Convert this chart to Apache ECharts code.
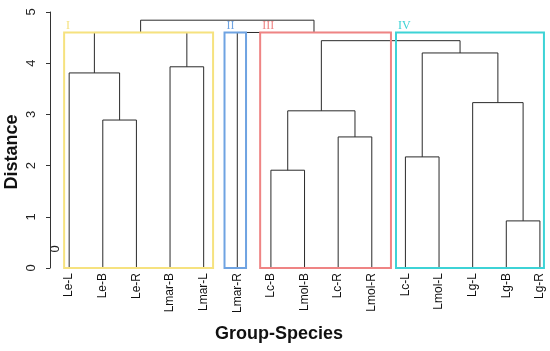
<!DOCTYPE html>
<html><head><meta charset="utf-8">
<script src="https://cdn.jsdelivr.net/npm/echarts@6/dist/echarts.min.js"></script>
<style>html,body{margin:0;padding:0;background:#fff}#c{width:550px;height:351px}</style>
</head><body><div id="c"></div>
<script>
// ---- data ----
const leaves = ['Le-L','Le-B','Le-R','Lmar-B','Lmar-L','Lmar-R','Lc-B','Lmol-B','Lc-R','Lmol-R','Lc-L','Lmol-L','Lg-L','Lg-B','Lg-R'];
// hclust-style merges: negative = leaf (1-based position), positive = earlier merge
const mergeLeft   = [-14, -7, -11, -9, -2, 2, -13, -1, -4, 3, 6, 8, -6, 12];
const mergeRight  = [-15, -8, -12, -10, -3, 4, 1, 5, -5, 7, 10, 9, 11, 13];
const mergeHeight = [0.92, 1.91, 2.17, 2.56, 2.89, 3.07, 3.23, 3.81, 3.93, 4.20, 4.44, 4.60, 4.60, 4.84];
const groupNames = ['I','II','III','IV'];
const groupFirst = [1, 6, 7, 11];
const groupLast  = [5, 6, 10, 15];
const groupCut = 4.6;
const yTicks = [0, 1, 2, 3, 4, 5];

// ---- styles / layout ----
const groupColors = ['#F6E27F', '#6FA3E2', '#EF8484', '#3DD3D6'];
const padLeft  = [0.15, 0.38, 0.32, 0.28];
const padRight = [0.28, 0.26, 0.57, 0.12];

// build dendrogram segments from the merge table
const mx = [], mh = [];
function nodeX(id) { return id < 0 ? -id : mx[id - 1]; }
function nodeH(id) { return id < 0 ? 0 : mh[id - 1]; }
const segs = [];
for (let k = 0; k < mergeHeight.length; k++) {
  const a = mergeLeft[k], b = mergeRight[k], h = mergeHeight[k];
  const xa = nodeX(a), xb = nodeX(b);
  segs.push([xa, nodeH(a), xa, h]);
  segs.push([xa, h, xb, h]);
  segs.push([xb, h, xb, nodeH(b)]);
  mx.push((xa + xb) / 2); mh.push(h);
}
const boxes = groupNames.map((g, i) => [groupFirst[i] - padLeft[i], groupLast[i] + padRight[i], groupCut, i]);

const chart = echarts.init(document.getElementById('c'));
chart.setOption({
  animation: false,
  backgroundColor: '#fff',
  grid: { left: 50, right: 0, top: 12, bottom: 83 },
  xAxis: {
    type: 'value', min: 0.43, max: 15.3,
    axisLine: { show: false }, axisTick: { show: false }, splitLine: { show: false },
    axisLabel: {
      customValues: leaves.map((_, i) => i + 1),
      formatter: v => leaves[Math.round(v) - 1] || '',
      rotate: 90, fontSize: 12, margin: 5, color: '#111', fontFamily: 'Liberation Sans'
    }
  },
  yAxis: {
    type: 'value', min: 0, max: 5, interval: 1,
    axisLine: { show: true, lineStyle: { color: '#333', width: 1 } },
    axisTick: { show: true, length: 4, lineStyle: { color: '#333' } },
    splitLine: { show: false },
    axisLabel: {
      customValues: yTicks,
      rotate: 90, fontSize: 13, margin: 12, color: '#222', fontFamily: 'Liberation Sans'
    }
  },
  graphic: [
    { type: 'text', x: 12, y: 152, rotation: Math.PI / 2,
      style: { text: 'Distance', font: 'bold 18px "Liberation Sans"', fill: '#111', align: 'center', verticalAlign: 'middle' } },
    { type: 'text', x: 279, y: 334,
      style: { text: 'Group-Species', font: 'bold 18px "Liberation Sans"', fill: '#111', align: 'center', verticalAlign: 'middle' } },
    { type: 'text', x: 55, y: 249, rotation: Math.PI / 2,
      style: { text: '0', font: '13px "Liberation Sans"', fill: '#222', align: 'center', verticalAlign: 'middle' } }
  ],
  series: [
    {
      type: 'custom', z: 2, silent: true,
      data: segs,
      renderItem: (params, api) => {
        const p1 = api.coord([api.value(0), api.value(1)]);
        const p2 = api.coord([api.value(2), api.value(3)]);
        return { type: 'line', shape: { x1: p1[0], y1: p1[1], x2: p2[0], y2: p2[1] },
                 style: { stroke: '#2a2a2a', lineWidth: 1 } };
      }
    },
    {
      type: 'custom', z: 3, silent: true,
      data: boxes,
      renderItem: (params, api) => {
        const i = api.value(3);
        const tl = api.coord([api.value(0), api.value(2)]);
        const br = api.coord([api.value(1), 0]);
        const col = groupColors[i];
        return { type: 'group', children: [
          { type: 'rect', shape: { x: tl[0], y: tl[1], width: br[0] - tl[0], height: br[1] - tl[1] },
            style: { fill: 'none', stroke: col, lineWidth: 2 } },
          { type: 'text', x: tl[0] + 2, y: tl[1] - 0.5,
            style: { text: groupNames[i], font: '12px "Liberation Serif"', fill: col, align: 'left', verticalAlign: 'bottom' } }
        ]};
      }
    }
  ]
});
</script></body></html>
